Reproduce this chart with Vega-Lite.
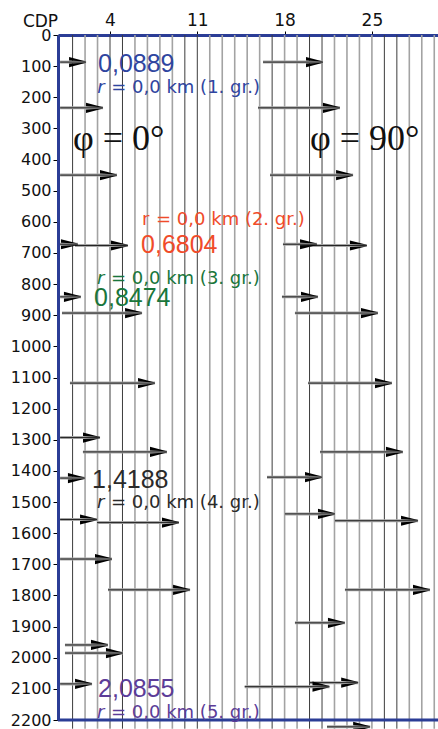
{
  "$schema": "https://vega.github.io/schema/vega-lite/v6.json",
  "width": 380,
  "height": 685,
  "autosize": {"type": "none"},
  "padding": {"left": 58, "top": 35, "right": 0, "bottom": 9},
  "background": "white",
  "config": {"view": {"stroke": null}, "font": "DejaVu Sans", "axis": {"grid": false}},
  "datasets": {
    "traces": [
      {"cdp": 1}, {"cdp": 2}, {"cdp": 3}, {"cdp": 4}, {"cdp": 5}, {"cdp": 6}, {"cdp": 7}, {"cdp": 8}, {"cdp": 9}, {"cdp": 10},
      {"cdp": 11}, {"cdp": 12}, {"cdp": 13}, {"cdp": 14}, {"cdp": 15}, {"cdp": 16}, {"cdp": 17}, {"cdp": 18}, {"cdp": 19}, {"cdp": 20},
      {"cdp": 21}, {"cdp": 22}, {"cdp": 23}, {"cdp": 24}, {"cdp": 25}, {"cdp": 26}, {"cdp": 27}, {"cdp": 28}, {"cdp": 29}, {"cdp": 30}
    ],
    "events": [
      {"t": 87, "c0": 0, "c1": 2.08},
      {"t": 234, "c0": 0, "c1": 3.44},
      {"t": 450, "c0": 0, "c1": 4.56},
      {"t": 672, "c0": 0, "c1": 1.43},
      {"t": 676, "c0": 1.19, "c1": 5.44},
      {"t": 841, "c0": 0, "c1": 1.67},
      {"t": 893, "c0": 0.15, "c1": 6.57},
      {"t": 1118, "c0": 0.79, "c1": 7.61},
      {"t": 1293, "c0": 0, "c1": 3.2},
      {"t": 1339, "c0": 1.83, "c1": 8.57},
      {"t": 1423, "c0": 0, "c1": 1.99},
      {"t": 1556, "c0": 0, "c1": 2.96},
      {"t": 1566, "c0": 2.96, "c1": 9.53},
      {"t": 1683, "c0": 0, "c1": 4.16},
      {"t": 1782, "c0": 3.84, "c1": 10.42},
      {"t": 1959, "c0": 0.39, "c1": 3.84},
      {"t": 1985, "c0": 0.39, "c1": 5.04},
      {"t": 2084, "c0": 0, "c1": 2.56},
      {"t": 87, "c0": 16.27, "c1": 21.08},
      {"t": 234, "c0": 15.87, "c1": 22.44},
      {"t": 450, "c0": 16.83, "c1": 23.49},
      {"t": 672, "c0": 17.87, "c1": 20.6},
      {"t": 676, "c0": 19.24, "c1": 24.6},
      {"t": 841, "c0": 17.79, "c1": 20.68},
      {"t": 893, "c0": 18.83, "c1": 25.49},
      {"t": 1118, "c0": 19.88, "c1": 26.61},
      {"t": 1339, "c0": 20.84, "c1": 27.49},
      {"t": 1420, "c0": 16.59, "c1": 21.0},
      {"t": 1538, "c0": 18.03, "c1": 22.04},
      {"t": 1560, "c0": 22.04, "c1": 28.7},
      {"t": 1782, "c0": 22.84, "c1": 29.66},
      {"t": 1888, "c0": 18.83, "c1": 22.84},
      {"t": 2093, "c0": 14.8, "c1": 21.6},
      {"t": 2080, "c0": 20.04, "c1": 23.9},
      {"t": 2222, "c0": 21.4, "c1": 24.86}
    ],
    "values": [
      {"txt": "0,0889", "c": 3.04, "t": 119, "g": "1"},
      {"txt": "0,6804", "c": 6.49, "t": 700, "g": "2"},
      {"txt": "0,8474", "c": 2.72, "t": 869, "g": "3"},
      {"txt": "1,4188", "c": 2.56, "t": 1455, "g": "4"},
      {"txt": "2,0855", "c": 3.04, "t": 2126, "g": "5"}
    ],
    "radii": [
      {"lead": "r", "rest": "= 0,0 km (1. gr.)", "c": 2.98, "t": 186, "g": "1"},
      {"lead": "r", "rest": "= 0,0 km (2. gr.)", "c": 6.57, "t": 610, "g": "2"},
      {"lead": "r", "rest": "= 0,0 km (3. gr.)", "c": 2.96, "t": 801, "g": "3"},
      {"lead": "r", "rest": "= 0,0 km (4. gr.)", "c": 2.96, "t": 1519, "g": "4"},
      {"lead": "r", "rest": "= 0,0 km (5. gr.)", "c": 2.96, "t": 2194, "g": "5"}
    ],
    "angles": [
      {"txt": "φ = 0°", "c": 1.03, "t": 369},
      {"txt": "φ = 90°", "c": 20.04, "t": 369}
    ]
  },
  "layer": [
    {
      "data": {"name": "traces"},
      "mark": {"type": "rule"},
      "encoding": {
        "x": {
          "field": "cdp", "type": "quantitative",
          "scale": {"domain": [-0.17, 30.3], "nice": false, "zero": false},
          "axis": {
            "orient": "top", "values": [4, 11, 18, 25], "grid": false,
            "domainColor": "#2b3d96", "domainWidth": 3,
            "tickColor": "#000", "tickSize": 4, "tickWidth": 1,
            "labelFont": "DejaVu Sans", "labelFontSize": 17, "labelColor": "#111",
            "labelBaseline": "alphabetic", "labelPadding": 6, "labelFlush": false,
            "title": "CDP", "titleFont": "DejaVu Sans", "titleFontSize": 17, "titleFontWeight": "normal",
            "titleColor": "#111", "titleX": -18, "titleY": -9, "titleAlign": "center",
            "titleBaseline": "alphabetic", "titleAngle": 0
          }
        },
        "y": {"datum": 0, "type": "quantitative", "scale": {"domain": [0, 2200], "nice": false, "zero": false, "reverse": true}},
        "y2": {"datum": 2228},
        "color": {"condition": {"test": "indexof([1,4,5,10,11,17,20,21,26,27], datum.cdp) >= 0", "value": "#3c3c3c"}, "value": "#a3a3a3"},
        "strokeWidth": {"condition": {"test": "indexof([1,4,5,10,11,17,20,21,26,27], datum.cdp) >= 0", "value": 1}, "value": 1.6}
      }
    },
    {
      "data": {"name": "events"},
      "mark": {"type": "rule", "color": "#a8a8a8", "strokeWidth": 3},
      "encoding": {
        "x": {"field": "c0", "type": "quantitative", "scale": {"domain": [-0.17, 30.3], "nice": false, "zero": false}},
        "x2": {"field": "c1"},
        "y": {
          "field": "t", "type": "quantitative",
          "scale": {"domain": [0, 2200], "nice": false, "zero": false, "reverse": true},
          "axis": {
            "orient": "left", "tickCount": 23, "format": "d",
            "values": [0,100,200,300,400,500,600,700,800,900,1000,1100,1200,1300,1400,1500,1600,1700,1800,1900,2000,2100,2200],
            "title": null, "grid": false,
            "domainColor": "#2b3d96", "domainWidth": 3,
            "tickColor": "#000", "tickSize": 5, "tickWidth": 1,
            "labelFont": "DejaVu Sans", "labelFontSize": 16, "labelColor": "#111",
            "labelPadding": 2, "labelFlush": false, "labelOverlap": false, "labelBound": false
          }
        }
      }
    },
    {
      "data": {"name": "events"},
      "mark": {"type": "rule", "color": "#111", "strokeWidth": 0.9},
      "encoding": {
        "x": {"field": "c0", "type": "quantitative", "scale": {"domain": [-0.17, 30.3], "nice": false, "zero": false}},
        "x2": {"field": "c1"},
        "y": {"field": "t", "type": "quantitative", "scale": {"domain": [0, 2200], "nice": false, "zero": false, "reverse": true}}
      }
    },
    {
      "data": {"name": "events"},
      "mark": {"type": "point", "filled": true, "opacity": 1, "color": "#000", "size": 289,
               "shape": "M0,-0.08L-2,-0.6L-2,-0.18Z M0,0.08L-2,0.6L-2,0.18Z"},
      "encoding": {
        "x": {"field": "c1", "type": "quantitative", "scale": {"domain": [-0.17, 30.3], "nice": false, "zero": false}},
        "y": {"field": "t", "type": "quantitative", "scale": {"domain": [0, 2200], "nice": false, "zero": false, "reverse": true}}
      }
    },
    {
      "data": {"values": [{}]},
      "mark": {"type": "rule", "color": "#2b3d96", "strokeWidth": 3},
      "encoding": {
        "y": {"datum": 2200, "type": "quantitative", "scale": {"domain": [0, 2200], "nice": false, "zero": false, "reverse": true}}
      }
    },
    {
      "data": {"name": "values"},
      "mark": {"type": "text", "align": "left", "baseline": "alphabetic", "font": "Liberation Sans", "fontSize": 25},
      "encoding": {
        "x": {"field": "c", "type": "quantitative", "scale": {"domain": [-0.17, 30.3], "nice": false, "zero": false}},
        "y": {"field": "t", "type": "quantitative", "scale": {"domain": [0, 2200], "nice": false, "zero": false, "reverse": true}},
        "text": {"field": "txt"},
        "color": {"field": "g", "type": "nominal", "scale": {"domain": ["1","2","3","4","5"], "range": ["#2f45a0","#f04b2a","#19763b","#2a2a2a","#5c3c98"]}, "legend": null}
      }
    },
    {
      "data": {"name": "radii"},
      "transform": [{"filter": "datum.g != '2'"}],
      "mark": {"type": "text", "align": "left", "baseline": "alphabetic", "font": "DejaVu Sans", "fontSize": 18, "fontStyle": "italic"},
      "encoding": {
        "x": {"field": "c", "type": "quantitative", "scale": {"domain": [-0.17, 30.3], "nice": false, "zero": false}},
        "y": {"field": "t", "type": "quantitative", "scale": {"domain": [0, 2200], "nice": false, "zero": false, "reverse": true}},
        "text": {"field": "lead"},
        "color": {"field": "g", "type": "nominal", "scale": {"domain": ["1","2","3","4","5"], "range": ["#2f45a0","#f04b2a","#19763b","#2a2a2a","#5c3c98"]}, "legend": null}
      }
    },
    {
      "data": {"name": "radii"},
      "transform": [{"filter": "datum.g == '2'"}],
      "mark": {"type": "text", "align": "left", "baseline": "alphabetic", "font": "DejaVu Sans", "fontSize": 18},
      "encoding": {
        "x": {"field": "c", "type": "quantitative", "scale": {"domain": [-0.17, 30.3], "nice": false, "zero": false}},
        "y": {"field": "t", "type": "quantitative", "scale": {"domain": [0, 2200], "nice": false, "zero": false, "reverse": true}},
        "text": {"field": "lead"},
        "color": {"field": "g", "type": "nominal", "scale": {"domain": ["1","2","3","4","5"], "range": ["#2f45a0","#f04b2a","#19763b","#2a2a2a","#5c3c98"]}, "legend": null}
      }
    },
    {
      "data": {"name": "radii"},
      "mark": {"type": "text", "align": "left", "baseline": "alphabetic", "font": "DejaVu Sans", "fontSize": 18, "dx": 14},
      "encoding": {
        "x": {"field": "c", "type": "quantitative", "scale": {"domain": [-0.17, 30.3], "nice": false, "zero": false}},
        "y": {"field": "t", "type": "quantitative", "scale": {"domain": [0, 2200], "nice": false, "zero": false, "reverse": true}},
        "text": {"field": "rest"},
        "color": {"field": "g", "type": "nominal", "scale": {"domain": ["1","2","3","4","5"], "range": ["#2f45a0","#f04b2a","#19763b","#2a2a2a","#5c3c98"]}, "legend": null}
      }
    },
    {
      "data": {"name": "angles"},
      "mark": {"type": "text", "align": "left", "baseline": "alphabetic", "font": "Liberation Serif", "fontSize": 36, "color": "#111"},
      "encoding": {
        "x": {"field": "c", "type": "quantitative", "scale": {"domain": [-0.17, 30.3], "nice": false, "zero": false}},
        "y": {"field": "t", "type": "quantitative", "scale": {"domain": [0, 2200], "nice": false, "zero": false, "reverse": true}},
        "text": {"field": "txt"}
      }
    }
  ]
}
